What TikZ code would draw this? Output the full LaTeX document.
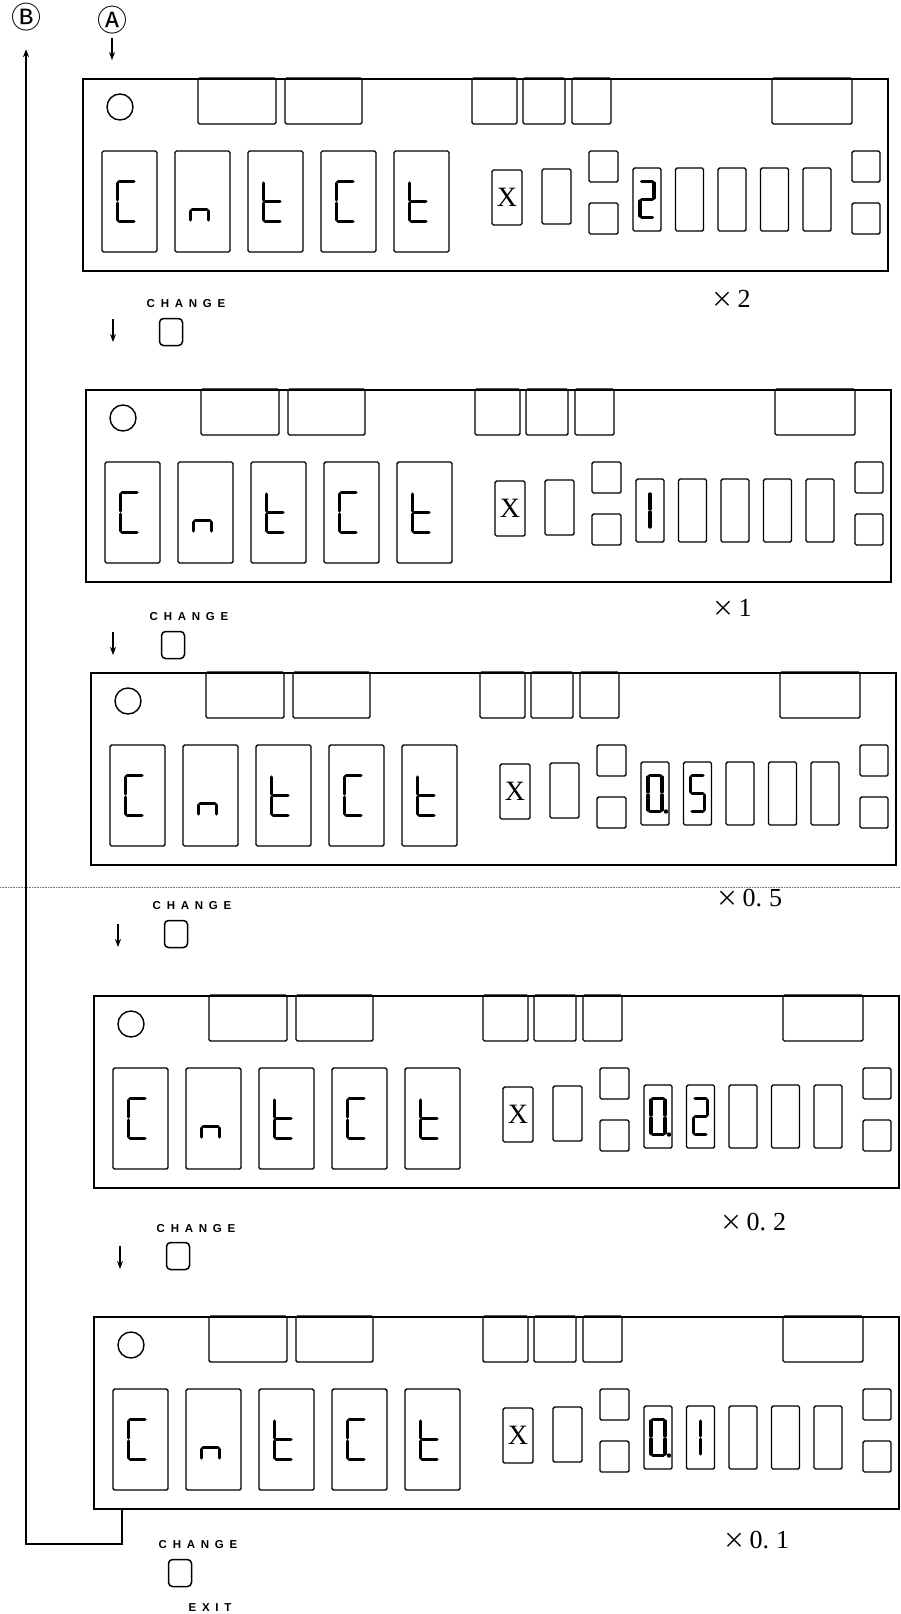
\documentclass[tikz,border=0pt]{standalone}
\usepackage{fontspec}
\setmainfont{Liberation Serif}
\newfontfamily\keyfont[LetterSpace=50]{Liberation Sans Bold}
\newfontfamily\jpfont{Noto Sans CJK JP}
\usetikzlibrary{arrows.meta,positioning}
\tikzset{
  frame/.style={draw, line width=1.8pt, minimum width=805pt, minimum height=192pt, inner sep=0pt, anchor=north west},
  box/.style={draw, line width=1.4pt, rounded corners=1.5pt},
  seg/.style={line width=3.6pt, line cap=round, shorten <=1.6pt, shorten >=1.6pt},
  lamp/.style={draw, line width=1.4pt},
  key/.style={draw, line width=1.5pt, rounded corners=4pt, minimum width=23pt, minimum height=27pt, inner sep=0pt},
  keylbl/.style={font=\keyfont\fontsize{11.5}{12}\selectfont, inner sep=0pt},
  mult/.style={font=\fontsize{26}{28}\selectfont, anchor=west, inner sep=0pt},
  xsym/.style={font=\fontsize{28}{28}\selectfont, inner sep=0pt},
  circ/.style={font=\jpfont\fontsize{30}{32}\selectfont, inner sep=0pt},
  arr/.style={-{Stealth[length=8pt, width=6pt]}, line width=1.4pt},
  fold/.style={densely dotted, line width=0.6pt, black!55},
}
% seven segment glyphs, as pairs of corner points
\def\digC{TR/TL,TL/ML,ML/BL,BL/BR}
\def\dign{QL/QR,QL/BL,QR/BR}
\def\digt{TL/ML,ML/MR,ML/BL,BL/BR}
\def\digtwo{TL/TR,TR/MR,MR/ML,ML/BL,BL/BR}
\def\digone{TC/MC,MC/BC}
\def\digzero{TL/TR,TR/MR,MR/BR,BR/BL,BL/ML,ML/TL}
\def\digfive{TR/TL,TL/ML,ML/MR,MR/BR,BR/BL}
\newcommand{\segdigit}[5]{% centre x, centre y, width, height, glyph
  \begin{scope}[shift={(#1,#2)}]
    \coordinate (TL) at (-#3/2,-#4/2); \coordinate (TC) at (0,-#4/2); \coordinate (TR) at (#3/2,-#4/2);
    \coordinate (ML) at (-#3/2,0); \coordinate (MC) at (0,0); \coordinate (MR) at (#3/2,0);
    \coordinate (QL) at (-#3/2,#4/5); \coordinate (QR) at (#3/2,#4/5);
    \coordinate (BL) at (-#3/2,#4/2); \coordinate (BC) at (0,#4/2); \coordinate (BR) at (#3/2,#4/2);
    \expandafter\let\expandafter\seglist\csname dig#5\endcsname
    \foreach \u/\v in \seglist {\draw[seg] (\u) -- (\v);}
  \end{scope}}

\begin{document}
\begin{tikzpicture}[x=1pt, y=-1pt]
  \fill[white] (0,0) rectangle (901,1614);
  \useasboundingbox (0,0) rectangle (901,1614);
  \draw[fold] (0,887) -- (901,887);

  % the five panels
  \foreach \n/\px/\py/\rd/\hasdp in {1/82/78/{0/two}/0, 2/85/389/{0/one}/0, 3/90/672/{0/zero,1/five}/1,
                                     4/93/995/{0/zero,1/two}/1, 5/93/1316/{0/zero,1/one}/1}{
    \node[frame] (p\n) at (\px,\py) {};
    \begin{scope}[shift={(p\n.north west)}]
      \draw[lamp] (38,29) circle (13);
      \foreach \xa/\xb in {116/194,203/280,390/435,441/483,490/529,690/770}
        \draw[box] (\xa,0) rectangle (\xb,46);
      \foreach \i/\g in {0/C,1/n,2/t,3/C,4/t}{
        \draw[box] (20+73*\i,73) rectangle ++(55,101);
        \segdigit{44.5+73*\i}{123.5}{18}{40}{\g}
      }
      \draw[box] (410,92) rectangle (440,147);
      \node[xsym] (x\n) at (425,119.5) {X};
      \draw[box] (460,91) rectangle (489,146);
      \foreach \yy in {73,125}{
        \draw[box] (507,\yy) rectangle ++(29,31);
        \draw[box] (770,\yy) rectangle ++(28,31);
      }
      \foreach \i in {0,...,4} \draw[box] (551+42.5*\i,90) rectangle ++(28,63);
      \foreach \s/\g in \rd {\segdigit{565+42.5*\s}{121.5}{14}{36}{\g}}
      \ifnum\hasdp=1 \fill (576,139.5) circle (2.2); \fi
    \end{scope}
  }

  % keys and arrows between panels
  \foreach \k/\lx/\ly/\bx/\by in {1/186/304/171/332, 2/189/617/173/645, 3/192/906/176/934,
                                  4/196/1229/178/1256, 5/198/1545/180/1573}{
    \node[keylbl] (chg\k) at (\lx,\ly) {CHANGE};
    \node[key] (btn\k) at (\bx,\by) {};
  }
  \node[keylbl] (exit) at (210,1608) {EXIT};
  \foreach \k/\ax/\ay in {1/113/319, 2/113/632, 3/118/924, 4/120/1246}{
    \coordinate (dn\k) at (\ax,\ay);
    \draw[arr] (dn\k) -- ++(0,23);
  }

  % scale factors
  \foreach \k/\mx/\my/\txt in {1/711/299/{2}, 2/712/608/{1}, 3/716/898/{0.\;5},
                               4/720/1222/{0.\;2}, 5/723/1540/{0.\;1}}
    \node[mult] (m\k) at (\mx,\my) {{\jpfont\fontsize{22}{26}\selectfont ×}\,\txt};

  % entry and return
  \node[circ] (Asym) at (112,20) {Ⓐ};
  \node[circ] (Bsym) at (26,17) {Ⓑ};
  \draw[arr, shorten <=4pt] (Asym.south) -- ([yshift=18pt]Asym |- p1.north);
  \draw[arr] ([xshift=29pt]p5.south west) -- ++(0,34) -| ([yshift=-18pt]Bsym.south);
\end{tikzpicture}
\end{document}
